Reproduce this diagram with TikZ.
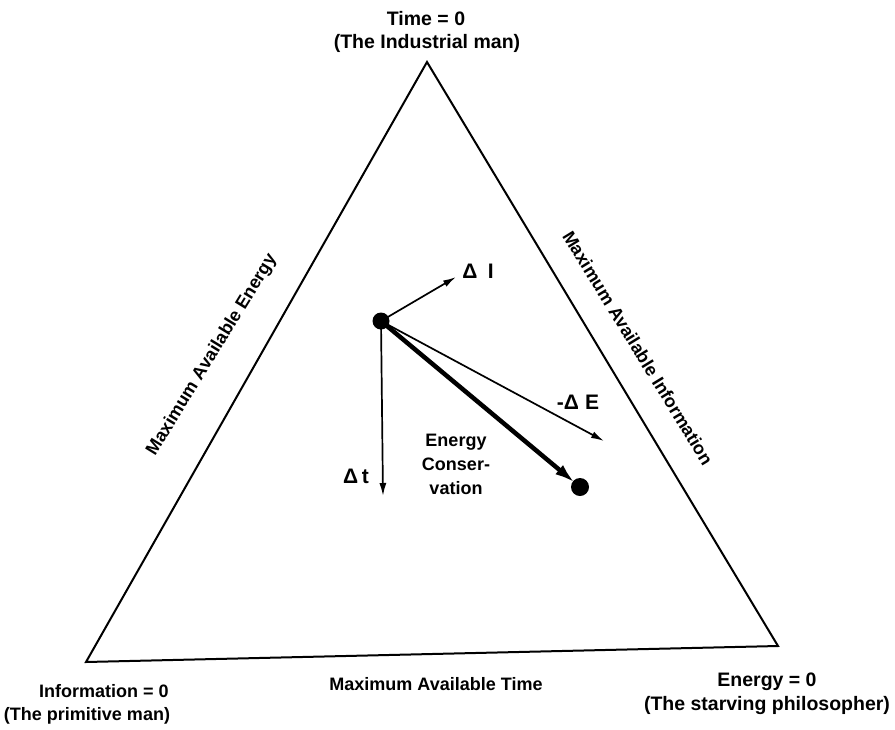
\documentclass[tikz,border=0pt]{standalone}
\usepackage{fontspec}
\setmainfont{Liberation Sans}
\usetikzlibrary{arrows.meta}
\begin{document}
\begin{tikzpicture}[x=1pt,y=-1pt,
  lbl/.style={font=\fontsize{18}{24}\selectfont\bfseries, inner sep=0pt, align=center},
  big/.style={font=\fontsize{19.5}{24}\selectfont\bfseries},
  dlt/.style={font=\fontsize{21}{24}\selectfont\bfseries},
  dotn/.style={circle, fill=black, inner sep=0pt, minimum size=#1},
  vec/.style={line width=1.7pt, -{Latex[length=13pt,width=7pt]}},
  thickvec/.style={line width=4.5pt, -{Latex[length=20pt,width=12pt]}}]
\useasboundingbox (0,0) rectangle (895,729);
\coordinate (T) at (427,62);
\coordinate (L) at (86,662);
\coordinate (R) at (778,646);
\draw[line width=2pt, line join=miter] (T) -- (R) -- (L) -- cycle;
\node[dotn=17pt] (A) at (381,321) {};
\node[dotn=18pt] (B) at (580,487) {};
\coordinate (dI) at (456,277);
\coordinate (dt) at (383,496);
\coordinate (dE) at (604,441);
\draw[vec] (A.center) -- (dI);
\draw[vec] (A.center) -- (dt);
\draw[vec] (A.center) -- (dE);
\draw[thickvec, shorten >=7pt] (A.center) -- (B.center);
\node[lbl, dlt] (lI) at (478,271) {Δ\hspace{0.5em}I};
\node[lbl, dlt] (lt) at (356,476) {Δ\,t};
\node[lbl, dlt] (lE) at (578,402) {-Δ\hspace{0.3em}E};
\node[lbl] (ec) at (456,464) {Energy\\Conser-\\vation};
\node[lbl, big] (t0) at (426,19) {Time = 0};
\node[lbl, big] (t1) at (427,43) {(The Industrial man)};
\node[lbl] (i0) at (104,691) {Information = 0};
\node[lbl] (i1) at (87,716) {(The primitive man)};
\node[lbl, big] (e0) at (767,682) {Energy = 0};
\node[lbl, big] (e1) at (767,705) {(The starving philosopher)};
\node[lbl] (mt) at (436,684) {Maximum Available Time};
\node[lbl, rotate=58.5] (me) at (212,355) {Maximum Available Energy};
\node[lbl, rotate=-58.5] (mi) at (638,348) {Maximum Available Information};
\end{tikzpicture}
\end{document}
